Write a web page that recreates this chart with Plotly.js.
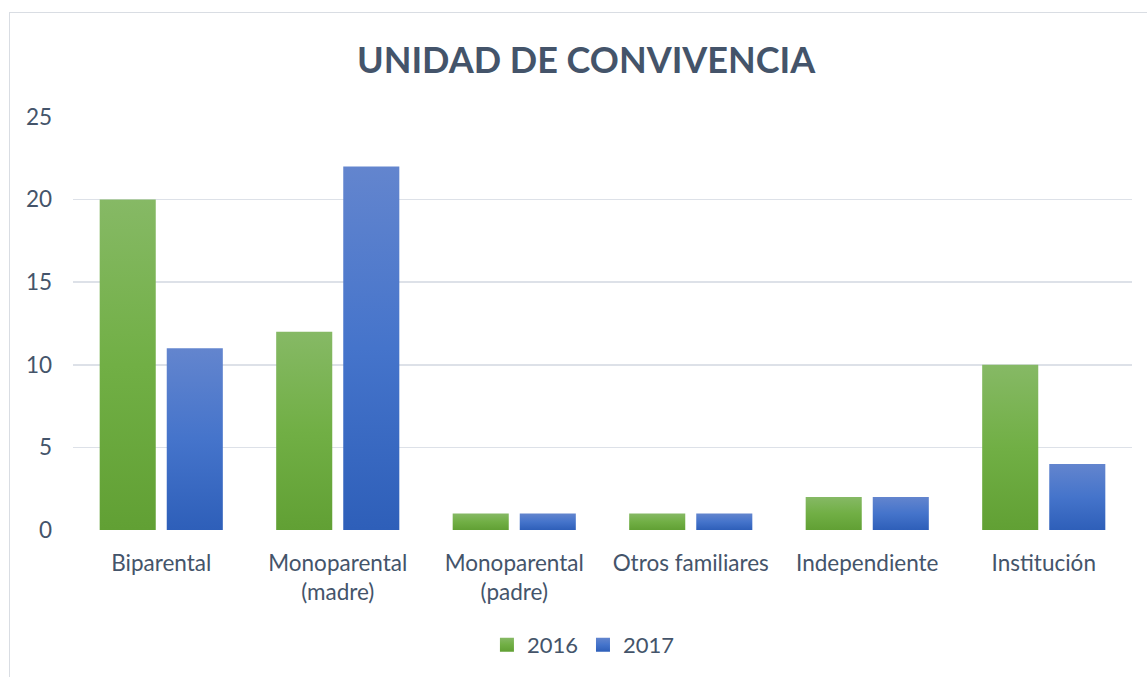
<!DOCTYPE html>
<html>
<head>
<meta charset="utf-8">
<script src="https://cdn.plot.ly/plotly-3.0.1.min.js"></script>
<style>
html,body{margin:0;padding:0;background:#fff;overflow:hidden;}
#chart{position:absolute;left:0;top:0;width:1147px;height:677px;}
#frame{position:absolute;left:9px;top:12px;width:1160px;height:690px;border:1.5px solid #D9DDE3;pointer-events:none;box-sizing:border-box;}
</style>
</head>
<body>
<div id="chart"></div>
<div id="frame"></div>
<script>
const categories = ["Biparental", "Monoparental<br>(madre)", "Monoparental<br>(padre)", "Otros familiares", "Independiente", "Institución"];
const values2016 = [20, 12, 1, 1, 2, 10];
const values2017 = [11, 22, 1, 1, 2, 4];
const seriesNames = ["2016", "2017"];
const yTicks = [0, 5, 10, 15, 20, 25];

const FONT = "Lato, 'Open Sans', sans-serif";
const TXT = "#44546A";

const data = [
  {type: "bar", name: seriesNames[0], x: categories, y: values2016, marker: {color: "#70AD47"}, hoverinfo: "none"},
  {type: "bar", name: seriesNames[1], x: categories, y: values2017, marker: {color: "#4472C4"}, hoverinfo: "none"}
];

const layout = {
  width: 1147, height: 677,
  margin: {l: 73, r: 15, t: 117, b: 146},
  paper_bgcolor: "#fff", plot_bgcolor: "#fff",
  font: {family: FONT, color: TXT, size: 22},
  title: {text: "<b>UNIDAD DE CONVIVENCIA</b>", font: {family: FONT, size: 36, color: TXT}, x: 0.511, xanchor: "center", y: 0.911, yanchor: "middle", xref: "container", yref: "container"},
  barmode: "group", bargap: 0.24, bargroupgap: 0.164,
  xaxis: {showgrid: false, zeroline: false, showline: false, ticks: "", tickfont: {size: 22.5, color: TXT}, ticklabelstandoff: 17, automargin: false},
  yaxis: {range: [0, 25], tickvals: yTicks, showgrid: true, gridcolor: "#DDE1E8", gridwidth: 1.5, zeroline: false, showline: false, ticks: "", tickfont: {size: 22.5, color: TXT}, ticklabelstandoff: 20, automargin: false},
  showlegend: true,
  legend: {orientation: "h", x: 0.482, xanchor: "center", y: -0.275, yanchor: "middle", font: {size: 22, color: TXT}, itemwidth: 30, traceorder: "normal"}
};

Plotly.newPlot("chart", data, layout, {displayModeBar: false, staticPlot: true}).then(function(gd){
  const svgNS = "http://www.w3.org/2000/svg";
  const svg = gd.querySelector("svg.main-svg");
  let defs = svg.querySelector("defs");
  if (!defs) { defs = document.createElementNS(svgNS, "defs"); svg.insertBefore(defs, svg.firstChild); }
  function grad(id, top, mid, bot){
    const g = document.createElementNS(svgNS, "linearGradient");
    g.setAttribute("id", id); g.setAttribute("x1", "0"); g.setAttribute("y1", "0"); g.setAttribute("x2", "0"); g.setAttribute("y2", "1");
    [[0, top], [0.5, mid], [1, bot]].forEach(function(s){
      const st = document.createElementNS(svgNS, "stop");
      st.setAttribute("offset", s[0]); st.setAttribute("stop-color", s[1]); g.appendChild(st);
    });
    defs.appendChild(g);
  }
  grad("gGreen", "#86B965", "#71AF45", "#61A034");
  grad("gBlue", "#6385CE", "#4574CB", "#2E5FB9");
  const ids = ["url(#gGreen)", "url(#gBlue)"];
  gd.querySelectorAll(".barlayer .trace").forEach(function(t, i){
    t.querySelectorAll("path").forEach(function(p){ p.style.fill = ids[i]; });
  });
  gd.querySelectorAll(".legend .traces").forEach(function(t, i){
    t.querySelectorAll(".legendpoints path").forEach(function(p){
      p.setAttribute("d", "M7,7H-7V-7H7Z");
      p.style.fill = ids[i];
    });
  });
});
</script>
</body>
</html>
